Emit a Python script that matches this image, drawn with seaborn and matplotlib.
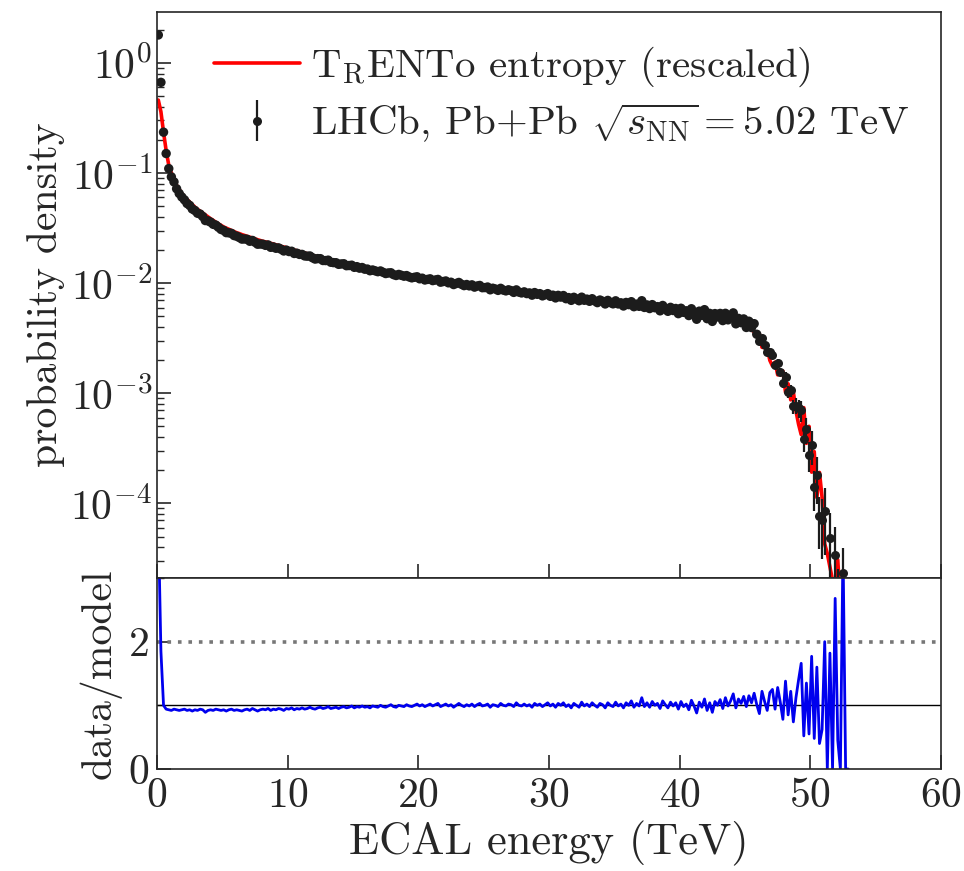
import numpy as np
import pandas as pd
import matplotlib
matplotlib.use("Agg")
import matplotlib.pyplot as plt
import seaborn as sns
from matplotlib.lines import Line2D
from matplotlib.ticker import LogLocator, FixedLocator, NullFormatter

# ---------------- data ----------------
energy_first = 0.1     # TeV, centre of first bin
energy_step = 0.2      # TeV, bin width

# TRENTo entropy (rescaled) probability density, one value per bin
model_density = [
    0.46, 0.36, 0.235, 0.160, 0.118,
    0.1003, 0.0884, 0.0774, 0.0709, 0.0651,
    0.0607, 0.0575, 0.0546, 0.0518, 0.0491,
    0.0469, 0.0451, 0.0433, 0.0416, 0.0400,
    0.0385, 0.0372, 0.0358, 0.0346, 0.0334,
    0.0324, 0.0316, 0.0308, 0.0301, 0.0294,
    0.0287, 0.0282, 0.0276, 0.0271, 0.0266,
    0.0261, 0.0257, 0.0253, 0.0248, 0.0244,
    0.0240, 0.0237, 0.0234, 0.0230, 0.0227,
    0.0223, 0.0220, 0.0216, 0.0213, 0.0210,
    0.0206, 0.0203, 0.0200, 0.0197, 0.0194,
    0.0190, 0.0188, 0.0185, 0.0182, 0.0179,
    0.0176, 0.0174, 0.0172, 0.0169, 0.0167,
    0.0165, 0.0163, 0.0160, 0.0158, 0.0156,
    0.0154, 0.0153, 0.0150, 0.0149, 0.0147,
    0.0145, 0.0144, 0.0141, 0.0140, 0.0138,
    0.0137, 0.0135, 0.0133, 0.0132, 0.0131,
    0.0129, 0.0128, 0.0126, 0.0125, 0.0123,
    0.0122, 0.0121, 0.0120, 0.0119, 0.0118,
    0.0116, 0.0115, 0.0114, 0.0113, 0.0112,
    0.01106, 0.01098, 0.01090, 0.01081, 0.01073,
    0.01065, 0.01057, 0.01049, 0.01041, 0.01034,
    0.01026, 0.01017, 0.01009, 0.01001, 0.00993,
    0.00985, 0.00977, 0.00969, 0.00962, 0.00954,
    0.00946, 0.00939, 0.00932, 0.00925, 0.00918,
    0.00911, 0.00904, 0.00897, 0.00890, 0.00884,
    0.00877, 0.00871, 0.00865, 0.00859, 0.00853,
    0.00847, 0.00841, 0.00835, 0.00829, 0.00823,
    0.00817, 0.00812, 0.00807, 0.00802, 0.00797,
    0.00792, 0.00787, 0.00782, 0.00777, 0.00772,
    0.00767, 0.00762, 0.00757, 0.00752, 0.00747,
    0.00742, 0.00737, 0.00732, 0.00727, 0.00722,
    0.00718, 0.00714, 0.00710, 0.00706, 0.00702,
    0.00698, 0.00694, 0.00690, 0.00686, 0.00682,
    0.00678, 0.00674, 0.00670, 0.00666, 0.00662,
    0.00658, 0.00654, 0.00650, 0.00646, 0.00642,
    0.00638, 0.00634, 0.00630, 0.00626, 0.00622,
    0.00618, 0.00614, 0.00610, 0.00606, 0.00602,
    0.00598, 0.00594, 0.00590, 0.00586, 0.00582,
    0.00578, 0.00574, 0.00570, 0.00566, 0.00562,
    0.00558, 0.00554, 0.00550, 0.00546, 0.00542,
    0.00538, 0.00534, 0.00530, 0.00526, 0.00522,
    0.00517, 0.00511, 0.00505, 0.00499, 0.00493,
    0.00487, 0.00481, 0.00475, 0.00469, 0.00463,
    0.00455, 0.00445, 0.00435, 0.00425, 0.00415,
    0.00404, 0.00392, 0.00380, 0.00360, 0.00340,
    0.00346, 0.00261, 0.00261, 0.00258, 0.00199,
    0.00177, 0.00192, 0.00147, 0.00149, 0.00159,
    0.00102, 0.00122, 0.00087, 0.00103, 0.00069,
    0.000523, 0.000421, 0.000740, 0.000351, 0.000501,
    0.000192, 0.000295, 0.000113, 0.000191, 0.000113,
    0.0000429, 0.000035, 0.0000265, 0.000020, 0.0000127,
    0.0000307, 0.000012, 0.0000066, 0.000010, 0.000009,
]

# data / model ratio (lower panel), one value per bin
data_over_model = [
    3.9, 1.85, 1.0, 0.94, 0.93,
    0.92, 0.94, 0.93, 0.92, 0.93,
    0.94, 0.92, 0.93, 0.91, 0.93,
    0.92, 0.94, 0.93, 0.89, 0.92,
    0.93, 0.92, 0.94, 0.93, 0.92,
    0.93, 0.91, 0.93, 0.94, 0.92,
    0.93, 0.92, 0.91, 0.93, 0.94,
    0.92, 0.95, 0.93, 0.91, 0.93,
    0.94, 0.93, 0.95, 0.92, 0.94,
    0.93, 0.95, 0.94, 0.92, 0.95,
    0.94, 0.96, 0.93, 0.95, 0.94,
    0.96, 0.94, 0.95, 0.97, 0.95,
    0.94, 0.96, 0.97, 0.95, 0.96,
    0.98, 0.95, 0.96, 0.97, 0.95,
    0.97, 0.98, 0.96, 0.97, 0.99,
    0.96, 0.98, 0.97, 0.99, 0.97,
    0.98, 0.96, 0.99, 0.98, 0.97,
    1.00, 0.98, 0.97, 0.99, 1.01,
    0.98, 0.97, 1.00, 0.99, 0.98,
    1.01, 0.99, 0.98, 1.00, 1.02,
    0.99, 1.01, 0.98, 1.00, 1.02,
    0.99, 1.01, 1.03, 0.98, 1.00,
    1.02, 0.99, 1.01, 0.97, 1.00,
    1.03, 1.00, 0.98, 1.01, 0.99,
    1.02, 0.98, 1.01, 1.03, 0.99,
    1.00, 1.02, 0.97, 1.01, 1.00,
    0.98, 1.03, 1.00, 0.99, 1.02,
    1.01, 0.98, 1.04, 1.00, 0.99,
    1.02, 0.99, 1.01, 0.97, 1.03,
    1.00, 1.02, 0.98, 1.01, 1.04,
    0.99, 1.02, 0.97, 1.03, 1.00,
    1.04, 0.98, 1.01, 0.96, 1.03,
    1.00, 0.97, 1.05, 0.99, 1.02,
    0.98, 1.04, 1.00, 0.97, 1.03,
    1.01, 0.96, 1.04, 1.00, 0.98,
    1.05, 0.99, 1.02, 0.96, 1.04,
    1.00, 1.07, 0.97, 1.03, 0.99,
    1.12, 0.98, 1.04, 0.97, 1.06,
    1.00, 1.03, 0.95, 1.07, 1.01,
    0.96, 1.05, 0.99, 1.04, 0.94,
    1.06, 0.98, 1.02, 0.93, 1.08,
    0.99, 0.88, 1.05, 0.97, 1.10,
    0.92, 1.04, 0.89, 1.06, 1.00,
    1.09, 0.95, 1.12, 0.99, 1.07,
    1.18, 0.96, 1.10, 1.03, 1.14,
    0.98, 1.15, 1.04, 1.19, 1.01,
    0.87, 1.22, 1.06, 0.92, 1.20,
    1.25, 0.94, 1.28, 1.05, 0.78,
    1.38, 0.85, 1.22, 0.74, 1.12,
    1.40, 1.66, 0.52, 1.35, 0.55,
    1.77, 0.48, 1.60, 0.40, 0.62,
    2.00, 0.00, 1.82, 0.00, 2.68,
    0.45, 0.00, 3.50, 0.00, 0.00,
]

# relative statistical errors of the LHCb points in the tail (visible bars)
tail_start_energy = 46.1
tail_rel_err = [
    0.05, 0.05, 0.06, 0.06, 0.07,
    0.07, 0.08, 0.08, 0.09, 0.10,
    0.11, 0.12, 0.13, 0.15, 0.17,
    0.19, 0.21, 0.24, 0.27, 0.30,
    0.34, 0.40, 0.45, 0.50, 0.55,
    0.60, 0.65, 0.70, 0.75, 0.80,
    0.85, 0.90, 0.70, 0.90, 0.90,
]

x_ticks = [0, 10, 20, 30, 40, 50, 60]
ratio_ticks = [0, 2]
ratio_minor_ticks = [1, 3]

# ---------------- derived table ----------------
energy = np.round(energy_first + energy_step * np.arange(len(model_density)), 2)
df = pd.DataFrame({"energy": energy,
                   "model": np.array(model_density),
                   "ratio": np.array(data_over_model)})
df["data"] = df["model"] * df["ratio"]
n_tail = len(tail_rel_err)
df["rel_err"] = np.nan
df.loc[df.index[-n_tail:], "rel_err"] = tail_rel_err

# ---------------- style ----------------
sns.set_style("ticks")
plt.rcParams.update({
    "font.family": "cmr10",
    "mathtext.fontset": "cm",
    "axes.formatter.use_mathtext": True,
    "axes.linewidth": 1.2,
    "axes.unicode_minus": True,
})

fig = plt.figure(figsize=(9.64, 8.71), dpi=100)
W, H = 964.0, 871.0
left, right = 157 / W, 941 / W
ax1 = fig.add_axes([left, 1 - 578 / H, right - left, (578 - 12) / H])
ax2 = fig.add_axes([left, 1 - 769 / H, right - left, (769 - 578) / H], sharex=ax1)

# ---------------- top panel ----------------
sns.lineplot(data=df, x="energy", y="model", ax=ax1, color="#ff0000",
             lw=2.6, estimator=None, sort=False, legend=False, zorder=2)
body = df[(df["energy"] < tail_start_energy - 1e-6) & (df["data"] > 0)]
sns.scatterplot(data=body, x="energy", y="data", ax=ax1, color="#1c1c1c",
                s=46, edgecolor="none", legend=False, zorder=3)
tail = df[(df["energy"] >= tail_start_energy - 1e-6) & (df["data"] > 0)]
eb = ax1.errorbar(tail["energy"], tail["data"],
                  yerr=tail["data"] * tail["rel_err"], fmt="o",
                  color="#1c1c1c", ms=6.5, mew=0, elinewidth=1.6,
                  capsize=0, zorder=3)

ax1.set_yscale("log")
ax1.set_ylim(2.1e-5, 2.9)
ax1.set_xlim(0, 60)
ax1.yaxis.set_major_locator(LogLocator(base=10, numticks=20))
ax1.yaxis.set_minor_locator(LogLocator(base=10, subs=np.arange(2, 10), numticks=20))
ax1.yaxis.set_minor_formatter(NullFormatter())
ax1.set_xticks(x_ticks)
ax1.tick_params(axis="both", which="major", direction="in", length=10,
                width=1.2, labelsize=30, top=False, right=False)
ax1.tick_params(axis="both", which="minor", direction="in", length=5,
                width=1.0, top=False, right=False)
ax1.tick_params(axis="x", labelbottom=False)
ax1.set_xlabel("")
ax1.set_ylabel("probability density", fontsize=30)

red_handle = Line2D([], [], color="#ff0000", lw=2.6)
ax1.legend([red_handle, eb],
           [r"T$_{\mathrm{R}}$ENTo entropy (rescaled)",
            r"LHCb, Pb+Pb $\sqrt{s_{\mathrm{NN}}} = 5.02$ TeV"],
           loc="upper right", bbox_to_anchor=(0.99, 0.985), frameon=False,
           fontsize=29.5, handlelength=2.1, handletextpad=0.25,
           labelspacing=0.3, borderaxespad=0.2)

# ---------------- ratio panel ----------------
ax2.axhline(1, color="black", lw=1.0, zorder=1)
ax2.axhline(2, color="#777777", lw=2.6, ls=(0, (1, 1.9)), zorder=1)
sns.lineplot(data=df, x="energy", y="ratio", ax=ax2, color="#0000ee",
             lw=2.0, estimator=None, sort=False, legend=False, zorder=2)
ax2.set_ylim(0, 3)
ax2.set_xlim(0, 60)
ax2.set_xticks(x_ticks)
ax2.set_yticks(ratio_ticks)
ax2.yaxis.set_minor_locator(FixedLocator(ratio_minor_ticks))
ax2.tick_params(axis="both", which="major", direction="in", length=10,
                width=1.2, labelsize=30, top=False, right=False, pad=6)
ax2.tick_params(axis="both", which="minor", direction="in", length=5,
                width=1.0, top=False, right=False)
ax2.set_xlabel("ECAL energy (TeV)", fontsize=32)
ax2.set_ylabel("data/model", fontsize=30)

fig.align_ylabels([ax1, ax2])
fig.savefig("out.png", dpi=100)
